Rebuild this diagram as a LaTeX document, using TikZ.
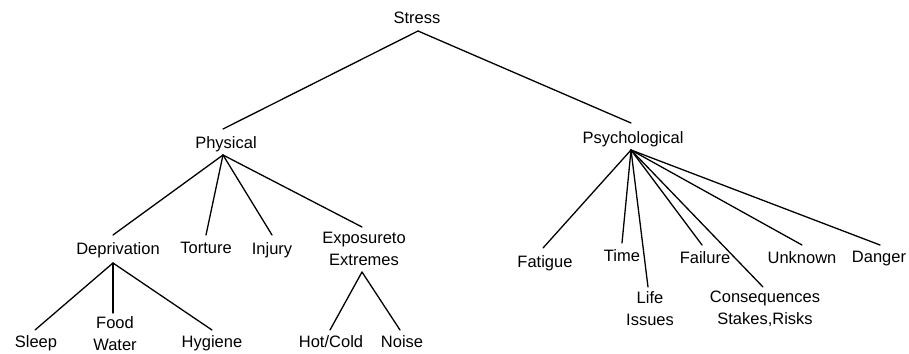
\documentclass[tikz,border=0pt]{standalone}
\usepackage{fontspec}
\setmainfont{Liberation Sans}
\begin{document}
\begin{tikzpicture}[x=1pt,y=-1pt,
  lbl/.style={anchor=north,inner sep=0pt,align=center,font=\fontsize{16.5}{22}\selectfont},
  conn/.style={line width=1.3pt,line cap=round,black}]
\useasboundingbox (0,0) rectangle (909,353);
% nodes: placed by top of first line (baseline - 12)
\node[lbl] (stress) at (417,12) {Stress};
\node[lbl] (phys) at (226,136) {Physical};
\node[lbl] (psych) at (633,131) {Psychological};
\node[lbl] (depr) at (118,242) {Deprivation};
\node[lbl] (tort) at (206,242) {Torture};
\node[lbl] (inj) at (272,242) {Injury};
\node[lbl] (expo) at (364,232) {Exposureto\\Extremes};
\node[lbl] (sleep) at (36,335) {Sleep};
\node[lbl] (food) at (115,316) {Food\\Water};
\node[lbl] (hyg) at (212,335) {Hygiene};
\node[lbl] (hot) at (331,335) {Hot/Cold};
\node[lbl] (noise) at (402,335) {Noise};
\node[lbl] (fat) at (545,255) {Fatigue};
\node[lbl] (time) at (622,249) {Time};
\node[lbl] (life) at (650,291) {Life\\Issues};
\node[lbl] (fail) at (705,251) {Failure};
\node[lbl] (cons) at (765,291) {Consequences\\Stakes,Risks};
\node[lbl] (unk) at (802,251) {Unknown};
\node[lbl] (dang) at (879,251) {Danger};
% apex coordinates below parents
\coordinate (aS) at ([xshift=1pt,yshift=-19pt]stress.north);
\coordinate (aP) at ([xshift=-3pt,yshift=-19pt]phys.north);
\coordinate (aY) at ([xshift=-2pt,yshift=-19pt]psych.north);
\coordinate (aD) at ([xshift=-5pt,yshift=-21pt]depr.north);
\coordinate (aE) at ([xshift=-2pt,yshift=-40pt]expo.north);
% connectors
\draw[conn] (aS) -- ([xshift=-3pt,yshift=7pt]phys.north);
\draw[conn] (aS) -- ([xshift=-2pt,yshift=8pt]psych.north);
\draw[conn] (aP) -- ([xshift=-5pt,yshift=7pt]depr.north);
\draw[conn] (aP) -- ([yshift=7pt]tort.north);
\draw[conn] (aP) -- ([yshift=7pt]inj.north);
\draw[conn] (aP) -- ([xshift=-2pt,yshift=5pt]expo.north);
\draw[conn] (aD) -- ([xshift=-1pt,yshift=5pt]sleep.north);
\draw[conn] (aD) -- ([xshift=-2pt,yshift=3pt]food.north);
\draw[conn] (aD) -- ([yshift=5pt]hyg.north);
\draw[conn] (aE) -- ([xshift=-1pt,yshift=5pt]hot.north);
\draw[conn] (aE) -- ([xshift=-2pt,yshift=5pt]noise.north);
\draw[conn] (aY) -- ([xshift=-2pt,yshift=7pt]fat.north);
\draw[conn] (aY) -- ([yshift=6pt]time.north);
\draw[conn] (aY) -- ([xshift=-2pt,yshift=4pt]life.north);
\draw[conn] (aY) -- ([xshift=-3pt,yshift=6pt]fail.north);
\draw[conn] (aY) -- ([xshift=-2pt,yshift=4pt]cons.north);
\draw[conn] (aY) -- ([yshift=6pt]unk.north);
\draw[conn] (aY) -- ([xshift=1pt,yshift=6pt]dang.north);
\end{tikzpicture}
\end{document}
